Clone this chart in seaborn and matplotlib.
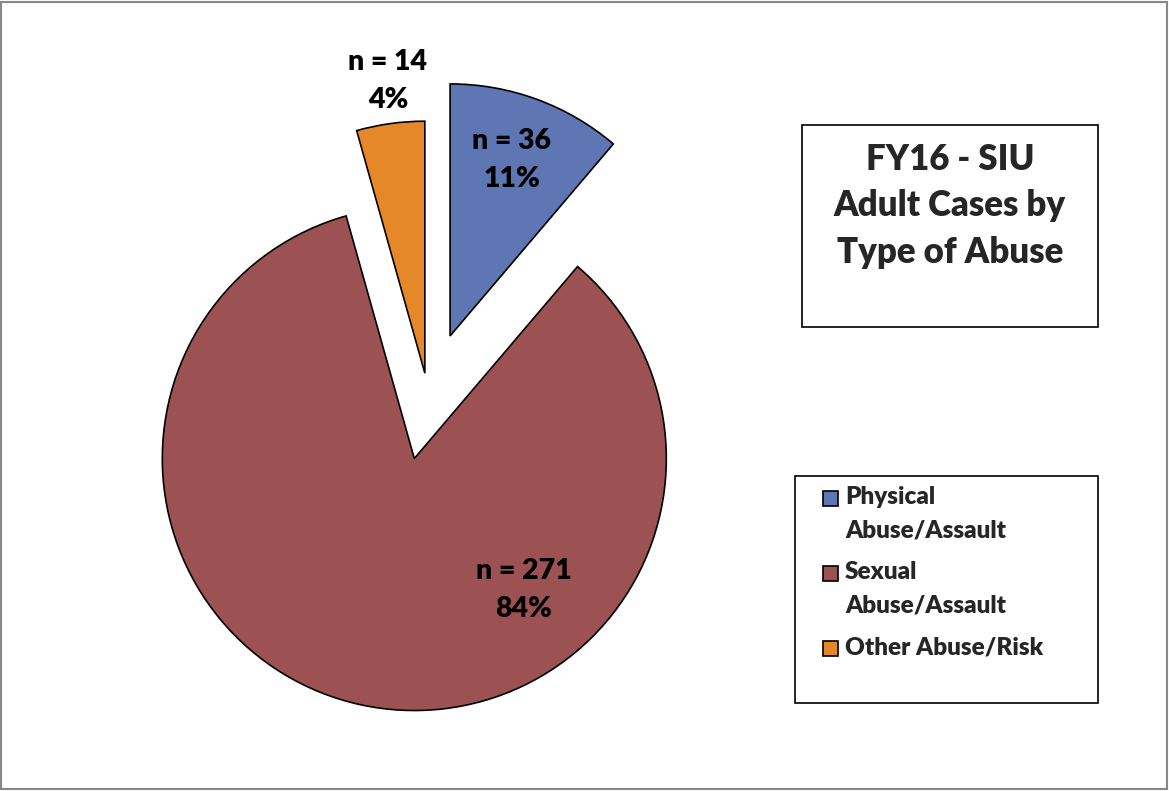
import matplotlib
matplotlib.use("Agg")
import matplotlib.pyplot as plt
import matplotlib.patches as mpatches
import seaborn as sns

# Data
categories = ["Physical\nAbuse/Assault", "Sexual\nAbuse/Assault", "Other Abuse/Risk"]
counts = [36, 271, 14]
colors = ["#5F76B4", "#9C5253", "#E5882A"]
title = "FY16 - SIU\nAdult Cases by\nType of Abuse"

W, H = 1169, 791

sns.set_theme(style="white")
plt.rcParams["font.family"] = ["Lato", "DejaVu Sans"]
WEIGHT = "heavy"

fig = plt.figure(figsize=(W / 100, H / 100), dpi=100)
ax = fig.add_axes([0, 0, 1, 1])

# pie in pixel units (y measured up from bottom)
wedges, _ = ax.pie(counts, colors=colors, startangle=90, counterclock=False,
                   center=(428, H - 396), radius=252, explode=[64, 64, 23],
                   wedgeprops=dict(edgecolor="black", linewidth=1.2))
ax.set_xlim(0, W)
ax.set_ylim(0, H)
ax.set_aspect("equal")
ax.axis("off")

# slice labels
total = sum(counts)
label_pos = [(512, 160), (524, 590), (388, 81)]
for n, (x, y) in zip(counts, label_pos):
    ax.text(x, H - y, f"n = {n}\n{round(100 * n / total)}%", ha="center", va="center",
            fontsize=20.5, fontweight=WEIGHT, linespacing=1.55, color="black")

# title box
ax.add_patch(mpatches.Rectangle((802, H - 327), 296, 202, fill=False,
                                edgecolor="black", linewidth=1.2))
ax.text(950, H - 206, title, ha="center", va="center", fontsize=25,
        fontweight=WEIGHT, linespacing=1.5)

# legend box
ax.add_patch(mpatches.Rectangle((795, H - 703), 303, 227, fill=False,
                                edgecolor="black", linewidth=1.2))
leg_tops = [490, 565, 640]
for lab, col, yt in zip(categories, colors, leg_tops):
    ax.add_patch(mpatches.Rectangle((823, H - yt - 16), 15, 15, facecolor=col,
                                    edgecolor="black", linewidth=1.2))
    ax.text(845, H - yt + 4, lab, ha="left", va="top", fontsize=17.5,
            fontweight=WEIGHT, linespacing=1.62)

# outer chart border
ax.add_patch(mpatches.Rectangle((1, 2), W - 3, H - 4, fill=False,
                                edgecolor="#888888", linewidth=1.5))

plt.savefig("out.png", dpi=100)
